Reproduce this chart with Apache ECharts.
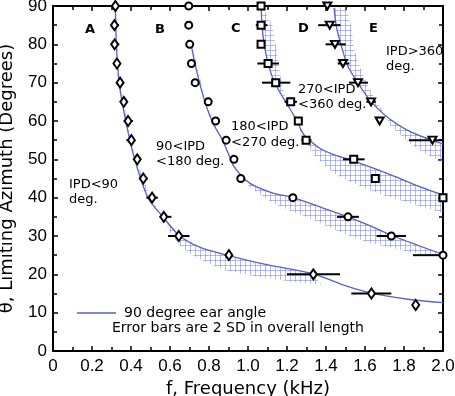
<!DOCTYPE html>
<html>
<head>
<meta charset="utf-8">
<script src="https://cdn.jsdelivr.net/npm/echarts@6/dist/echarts.min.js"></script>
<style>
  html, body { margin: 0; padding: 0; background: #fff; }
  #chart { width: 455px; height: 396px; }
</style>
</head>
<body>
<div id="chart"></div>
<script>
const LINE_COLOR = '#5a62c2'
const FONT = 'DejaVu Sans'

// tick labels
const xTicks = [0, 0.2, 0.4, 0.6, 0.8, 1.0, 1.2, 1.4, 1.6, 1.8, 2.0]
const yTicks = [0, 10, 20, 30, 40, 50, 60, 70, 80, 90]

// measured points [f kHz, theta deg]
const pointsA = [[0.32, 90], [0.315, 85], [0.316, 80], [0.328, 75], [0.344, 70], [0.363, 65], [0.385, 60],
  [0.402, 55], [0.432, 50], [0.463, 45], [0.508, 40], [0.568, 35], [0.645, 30], [0.902, 25],
  [1.335, 20], [1.633, 15], [1.86, 12]]
const pointsB = [[0.696, 90], [0.696, 85], [0.701, 80], [0.71, 75], [0.729, 70], [0.796, 65], [0.834, 60],
  [0.888, 55], [0.928, 50], [0.963, 45], [1.23, 40], [1.513, 35], [1.735, 30], [2.0, 25]]
const pointsC = [[1.067, 90], [1.067, 85], [1.067, 80], [1.103, 75], [1.142, 70], [1.219, 65], [1.258, 60],
  [1.298, 55], [1.542, 50], [1.653, 45], [2.0, 40]]
const pointsD = [[1.407, 90], [1.419, 85], [1.446, 80], [1.487, 75], [1.564, 70], [1.631, 65], [1.675, 60],
  [1.946, 55]]

// error bars [low f, theta, high f]
const barsA = [[0.30, 90, 0.339], [0.303, 85, 0.339], [0.30, 80, 0.34], [0.308, 75, 0.346], [0.328, 70, 0.362],
  [0.346, 65, 0.38], [0.363, 60, 0.41], [0.376, 55, 0.419], [0.415, 50, 0.445], [0.445, 45, 0.486],
  [0.479, 40, 0.538], [0.547, 35, 0.607], [0.59, 30, 0.70], [1.2, 20, 1.472], [1.53, 15, 1.735]]
const barsB = [[1.456, 35, 1.569], [1.66, 30, 1.81], [1.846, 25, 2.0]]
const barsC = [[1.04, 85, 1.10], [1.048, 75, 1.159], [1.072, 70, 1.217], [1.188, 65, 1.251],
  [1.274, 55, 1.325], [1.487, 50, 1.598]]
const barsD = [[1.36, 85, 1.474], [1.398, 80, 1.501], [1.46, 75, 1.52], [1.518, 70, 1.615],
  [1.607, 65, 1.655], [1.826, 55, 2.0]]

// 90 degree ear angle curves
const curveA = [[0.32, 90], [0.325, 80], [0.339, 70], [0.373, 60], [0.419, 50], [0.487, 40], [0.564, 35],
  [0.65, 30], [0.752, 27.1], [0.886, 25.1], [1.103, 22.45], [1.333, 20.2], [1.479, 17.4], [1.633, 15.1],
  [1.82, 13.5], [2.0, 12.6]]
const curveB = [[0.71, 79.5], [0.735, 73.4], [0.761, 68.1], [0.787, 63.8], [0.82, 59.5], [0.864, 55.5],
  [0.897, 51.8], [0.928, 48.1], [1.009, 43.8], [1.128, 41.2], [1.228, 40.1], [1.385, 37.3], [1.513, 35.0],
  [1.624, 32.7], [1.735, 30.2], [1.864, 27.7], [2.0, 25.2]]
const curveC = [[1.068, 89.5], [1.072, 84.7], [1.082, 80.3], [1.103, 75.1], [1.137, 69.9], [1.197, 64.7],
  [1.248, 60.3], [1.282, 56.8], [1.325, 54.6], [1.368, 52.9], [1.436, 51.3], [1.521, 49.9], [1.71, 46.4],
  [1.88, 42.9], [2.0, 40.7]]
const curveD = [[1.441, 89.5], [1.453, 84.7], [1.479, 79.5], [1.513, 74.2], [1.564, 69.9], [1.624, 65.5],
  [1.71, 61.2], [1.83, 57.3], [2.0, 54.0]]

// other edge of each hatched band
const edgeA = [[0.322, 90], [0.33, 80], [0.345, 70], [0.38, 60], [0.428, 50], [0.497, 40], [0.575, 34],
  [0.6, 31], [0.65, 27.5], [0.7, 25.5], [0.75, 24], [0.886, 21], [1.051, 19.4], [1.22, 18.1], [1.376, 17.2]]
const edgeB = [[0.715, 79.5], [0.745, 73], [0.775, 67], [0.805, 62], [0.84, 58], [0.885, 53.5], [0.94, 47.5],
  [1.0, 43.2], [1.05, 41.3], [1.128, 38.6], [1.2, 37], [1.265, 35.7], [1.368, 33.5], [1.436, 31.8],
  [1.538, 29.7], [1.607, 28.5], [1.71, 27.2], [1.778, 26.4], [1.88, 25.4], [2.0, 24.6]]
const edgeC = [[1.072, 90], [1.125, 85], [1.145, 79], [1.165, 72], [1.19, 66], [1.235, 61], [1.29, 55],
  [1.34, 51], [1.436, 46.5], [1.52, 44.3], [1.607, 42.3], [1.71, 40.4], [1.778, 39.4], [1.88, 37.8], [2.0, 36]]
const edgeD = [[1.5, 90], [1.53, 84.7], [1.545, 78.6], [1.575, 74], [1.607, 69.9], [1.66, 65], [1.7, 61.8],
  [1.726, 59], [1.78, 56.5], [1.83, 54.2], [1.91, 51.5], [2.0, 49]]

const curves = [curveA, curveB, curveC, curveD]
const edges = [edgeA, edgeB, edgeC, edgeD]

const makeHatch = () => {
  const c = document.createElement('canvas')
  c.width = 5
  c.height = 5
  const ctx = c.getContext('2d')
  ctx.strokeStyle = 'rgba(112,120,212,0.5)'
  ctx.lineWidth = 1
  ctx.beginPath()
  ctx.moveTo(0.5, 0); ctx.lineTo(0.5, 5)
  ctx.moveTo(0, 0.5); ctx.lineTo(5, 0.5)
  ctx.stroke()
  return c
}
const hatch = { image: makeHatch(), repeat: 'repeat' }

const bandPolygon = (curve, edge) => {
  const maxF = edge[edge.length - 1][0]
  const inner = curve.filter(p => p[0] <= maxF + 1e-9)
  return inner.concat(edge.slice().reverse())
}

const tickStyle = { color: '#000', width: 1.5 }
const baseAxis = {
  axisLine: { show: true, onZero: false, lineStyle: { color: '#000', width: 2 } },
  axisTick: { show: true, inside: true, length: 5, lineStyle: tickStyle },
  minorTick: { show: true, splitNumber: 2, length: 4, lineStyle: tickStyle },
  splitLine: { show: false }
}
const labelStyle = { color: '#000', fontSize: 17, fontFamily: 'Liberation Sans' }

const scatter = (data, symbol, size, rotate) => ({
  type: 'scatter',
  data,
  symbol,
  symbolSize: size,
  symbolRotate: rotate || 0,
  z: 5,
  itemStyle: { color: '#fff', borderColor: '#000', borderWidth: 2, opacity: 1 }
})

const errorBars = (data) => ({
  type: 'custom',
  data,
  z: 4,
  renderItem: (params, api) => {
    const a = api.coord([api.value(0), api.value(1)])
    const b = api.coord([api.value(2), api.value(1)])
    return {
      type: 'line',
      shape: { x1: a[0], y1: a[1], x2: b[0], y2: b[1] },
      style: { stroke: '#000', lineWidth: 2 }
    }
  }
})

const curveSeries = curves.map(c => ({
  type: 'line',
  name: '90 degree ear angle',
  data: c,
  showSymbol: false,
  smooth: 0.3,
  z: 3,
  lineStyle: { color: LINE_COLOR, width: 1.3 },
  itemStyle: { color: LINE_COLOR }
}))

const bandSeries = {
  type: 'custom',
  data: edges.map((e, i) => [i]),
  encode: { x: -1, y: -1 },
  z: 1,
  renderItem: (params, api) => {
    const i = params.dataIndex
    const pts = bandPolygon(curves[i], edges[i]).map(p => api.coord(p))
    return {
      type: 'polygon',
      shape: { points: pts },
      style: { fill: hatch, stroke: null }
    }
  }
}

const chart = echarts.init(document.getElementById('chart'))

const txt = (x, y, text, size, bold) => ({
  type: 'text',
  x, y,
  style: {
    text,
    fill: '#000',
    font: (bold ? 'bold ' : '') + size + 'px ' + FONT,
    verticalAlign: 'middle'
  }
})

chart.setOption({
  animation: false,
  grid: { left: 53, right: 12, top: 6, bottom: 45, outerBoundsMode: 'none', containLabel: false },
  xAxis: [
    Object.assign({}, baseAxis, {
      type: 'value', min: 0, max: 2, interval: 0.2,
      name: 'f, Frequency (kHz)', nameLocation: 'middle', nameGap: 27,
      nameTextStyle: { color: '#000', fontSize: 18, fontFamily: FONT },
      axisLabel: Object.assign({}, labelStyle, {
        margin: 7,
        formatter: v => (xTicks.indexOf(Math.round(v * 10) / 10) >= 0 ? (v === 0 ? '0' : v.toFixed(1)) : '')
      })
    }),
    Object.assign({}, baseAxis, {
      type: 'value', min: 0, max: 2, interval: 0.2, position: 'top',
      axisLabel: { show: false }
    })
  ],
  yAxis: [
    Object.assign({}, baseAxis, {
      type: 'value', min: 0, max: 90, interval: 10,
      name: 'θ, Limiting Azimuth (Degrees)', nameLocation: 'middle', nameGap: 37,
      nameTextStyle: { color: '#000', fontSize: 18, fontFamily: FONT },
      axisLabel: Object.assign({}, labelStyle, {
        margin: 6,
        formatter: v => (yTicks.indexOf(v) >= 0 ? String(v) : '')
      })
    }),
    Object.assign({}, baseAxis, {
      type: 'value', min: 0, max: 90, interval: 10, position: 'right',
      axisLabel: { show: false }
    })
  ],
  legend: {
    data: [{ name: '90 degree ear angle', icon: 'rect' }],
    left: 72, top: 301,
    itemWidth: 39, itemHeight: 1.5,
    textStyle: { color: '#000', fontSize: 14, fontFamily: FONT, padding: [0, 0, 0, 3] }
  },
  graphic: [
    txt(112, 328, 'Error bars are 2 SD in overall length', 14),
    txt(85, 30, 'A', 13, true),
    txt(155, 30, 'B', 13, true),
    txt(231, 29, 'C', 13, true),
    txt(298, 29, 'D', 13, true),
    txt(369, 29, 'E', 13, true),
    txt(69, 185, 'IPD<90', 13),
    txt(69, 200, 'deg.', 13),
    txt(156, 147, '90<IPD', 13),
    txt(156, 162, '<180 deg.', 13),
    txt(231, 127, '180<IPD', 13),
    txt(231, 143, '<270 deg.', 13),
    txt(298, 90, '270<IPD', 13),
    txt(298, 105, '<360 deg.', 13),
    txt(386, 52, 'IPD>360', 13),
    txt(386, 67, 'deg.', 13)
  ],
  series: [
    bandSeries,
    ...curveSeries,
    errorBars(barsA),
    errorBars(barsB),
    errorBars(barsC),
    errorBars(barsD),
    scatter(pointsA, 'diamond', [7, 10]),
    scatter(pointsB, 'circle', 7),
    scatter(pointsC, 'rect', 7),
    scatter(pointsD, 'triangle', [8, 7], 180)
  ]
})
</script>
</body>
</html>
